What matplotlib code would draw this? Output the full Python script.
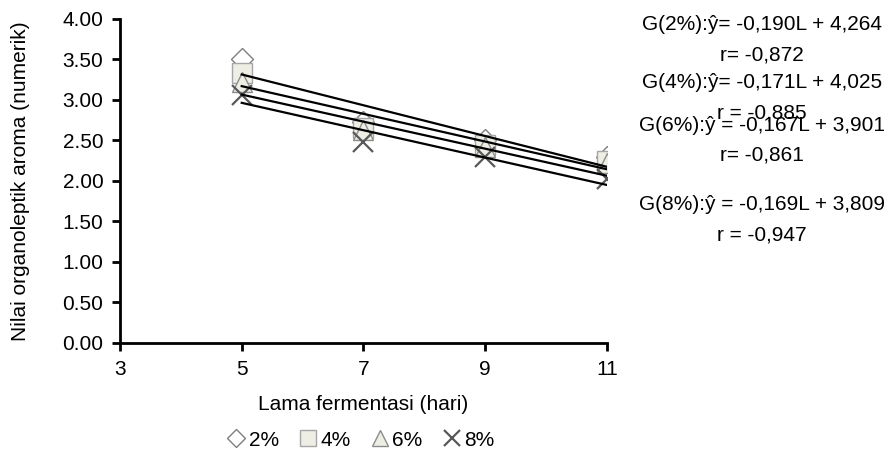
import numpy as np
import matplotlib.pyplot as plt
from matplotlib.ticker import FormatStrFormatter

plt.rcParams['font.family'] = ['Liberation Sans', 'DejaVu Sans']

# lama fermentasi (hari)
days = [5, 7, 9, 11]

# nilai organoleptik aroma per konsentrasi
aroma_2 = [3.50, 2.73, 2.50, 2.30]
aroma_4 = [3.33, 2.65, 2.44, 2.25]
aroma_6 = [3.22, 2.63, 2.42, 2.22]
aroma_8 = [3.06, 2.48, 2.30, 2.02]

labels = ["2%", "4%", "6%", "8%"]

# koefisien regresi (slope, intercept) dan r
slopes = [-0.190, -0.171, -0.167, -0.169]
intercepts = [4.264, 4.025, 3.901, 3.809]
r_values = ["r= -0,872", "r = -0,885", "r= -0,861", "r = -0,947"]
equations = [
    "G(2%):ŷ= -0,190L + 4,264",
    "G(4%):ŷ= -0,171L + 4,025",
    "G(6%):ŷ = -0,167L + 3,901",
    "G(8%):ŷ = -0,169L + 3,809",
]

FS = 15

fig = plt.figure(figsize=(8.92, 4.61), dpi=100)
ax = fig.add_axes([0.1345, 0.256, 0.546, 0.703])

series = [aroma_2, aroma_4, aroma_6, aroma_8]
styles = [
    dict(marker="D", markersize=11, markerfacecolor="white", markeredgecolor="#7f7f7f"),
    dict(marker="s", markersize=14, markerfacecolor="#eeeee4", markeredgecolor="#a6a6a6"),
    dict(marker="^", markersize=14, markerfacecolor="#eeeee4", markeredgecolor="#8c8c8c"),
    dict(marker="x", markersize=14, markeredgecolor="#595959", markeredgewidth=1.6),
]

for vals, lab, st in zip(series, labels, styles):
    ax.plot(days, vals, linestyle="none", label=lab, **st)

# garis regresi
xl = np.array([days[0], days[-1]])
for b, a in zip(slopes, intercepts):
    ax.plot(xl, a + b * xl, color="black", lw=1.6)

ax.set_xlim(3, 11)
ax.set_ylim(0, 4)
ax.set_xticks([3, 5, 7, 9, 11])
ax.set_yticks(np.arange(0, 4.01, 0.5))
ax.yaxis.set_major_formatter(FormatStrFormatter("%.2f"))
ax.spines["top"].set_visible(False)
ax.spines["right"].set_visible(False)
for s in ["left", "bottom"]:
    ax.spines[s].set_linewidth(2)
ax.tick_params(width=2, length=6, labelsize=FS, pad=6)

ax.set_xlabel("Lama fermentasi (hari)", fontsize=FS)
ax.set_ylabel("Nilai organoleptik aroma (numerik)", fontsize=FS)
ax.yaxis.set_label_coords(-90 / 487, 0.5)
ax.xaxis.set_label_coords(0.5, -52 / 324)

# persamaan regresi di sebelah kanan
eq_y = [25, 83, 125, 205]
for eq, r, y in zip(equations, r_values, eq_y):
    fig.text(762 / 892, 1 - y / 461, eq, ha="center", va="center", fontsize=FS)
    fig.text(762 / 892, 1 - (y + 30) / 461, r, ha="center", va="center", fontsize=FS)

handles, lbls = ax.get_legend_handles_labels()
fig.legend(handles, lbls, loc="center", bbox_to_anchor=(359 / 892, 1 - 440 / 461),
           ncol=4, frameon=False, fontsize=FS, handletextpad=0.0,
           columnspacing=0.8, handlelength=1.2, markerscale=0.8)

fig.savefig("out.png", dpi=100)
